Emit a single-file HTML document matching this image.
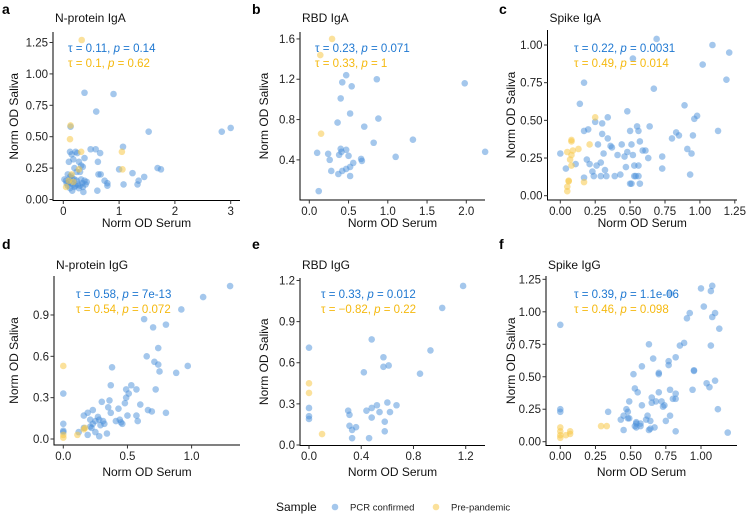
<!DOCTYPE html>
<html><head><meta charset="utf-8">
<style>
body{margin:0;background:#fff;}
svg{display:block;font-family:"Liberation Sans",Arial,sans-serif;}
</style></head>
<body>
<svg id="chart" width="747" height="514" viewBox="0 0 747 514" xmlns="http://www.w3.org/2000/svg"></svg>
<script>
const titlesA = ["N-protein IgA","RBD IgA","Spike IgA","N-protein IgG","RBD IgG","Spike IgG"];
const lettersA = ["a","b","c","d","e","f"];
const statsBlue = ["τ = 0.11, p = 0.14","τ = 0.23, p = 0.071","τ = 0.22, p = 0.0031","τ = 0.58, p = 7e-13","τ = 0.33, p = 0.012","τ = 0.39, p = 1.1e-06"];
const statsYellow = ["τ = 0.1, p = 0.62","τ = 0.33, p = 1","τ = 0.49, p = 0.014","τ = 0.54, p = 0.072","τ = −0.82, p = 0.22","τ = 0.46, p = 0.098"];
const xTicksA = [[0,1,2,3],[0,0.5,1,1.5,2],[0,0.25,0.5,0.75,1,1.25],[0,0.5,1],[0,0.4,0.8,1.2],[0,0.25,0.5,0.75,1]];
const xTickLabels = [["0","1","2","3"],["0.0","0.5","1.0","1.5","2.0"],["0.00","0.25","0.50","0.75","1.00","1.25"],["0.0","0.5","1.0"],["0.0","0.4","0.8","1.2"],["0.00","0.25","0.50","0.75","1.00"]];
const yTicksA = [[0,0.25,0.5,0.75,1,1.25],[0.4,0.8,1.2,1.6],[0,0.25,0.5,0.75,1],[0,0.3,0.6,0.9],[0,0.3,0.6,0.9,1.2],[0,0.25,0.5,0.75,1,1.25]];
const yTickLabels = [["0.00","0.25","0.50","0.75","1.00","1.25"],["0.4","0.8","1.2","1.6"],["0.00","0.25","0.50","0.75","1.00"],["0.0","0.3","0.6","0.9"],["0.0","0.3","0.6","0.9","1.2"],["0.00","0.25","0.50","0.75","1.00","1.25"]];

const blueA = [[0.38,0.85],[0.9,0.84],[0.59,0.7],[0.13,0.58],[1.53,0.54],[2.84,0.54],[3.0,0.57],[1.07,0.42],[0.49,0.4],[0.58,0.4],[0.66,0.37],[1.0,0.24],[0.62,0.3],[1.24,0.21],[1.45,0.18],[1.69,0.25],[1.75,0.24],[0.63,0.2],[0.67,0.2],[0.74,0.15],[0.79,0.13],[0.79,0.11],[1.08,0.12],[1.33,0.12],[1.35,0.15],[0.61,0.07],[0.36,0.06],
[0.12,0.38],[0.15,0.36],[0.22,0.38],[0.25,0.37],[0.18,0.32],[0.28,0.3],[0.32,0.27],[0.35,0.26],[0.38,0.33],[0.1,0.3],[0.2,0.25],[0.24,0.22],[0.3,0.22],[0.08,0.2],[0.12,0.18],[0.16,0.17],[0.2,0.16],[0.05,0.15],[0.02,0.16],[0.1,0.14],[0.14,0.13],[0.18,0.12],[0.22,0.11],[0.26,0.12],[0.3,0.11],[0.34,0.13],[0.38,0.15],[0.42,0.14],[0.08,0.11],[0.12,0.09],[0.16,0.07],[0.2,0.1],[0.28,0.09],[0.35,0.1],[0.06,0.13],[0.14,0.19],[0.24,0.15],[0.32,0.16],[0.4,0.12]];
const yellowA = [[0.33,1.27],[0.13,0.59],[0.12,0.48],[0.32,0.38],[1.05,0.38],[1.06,0.24],[0.05,0.1],[0.15,0.2],[0.28,0.24],[0.18,0.14],[0.1,0.15]];

const blueB = [[0.47,1.24],[0.42,1.17],[0.54,1.13],[0.86,1.2],[1.98,1.16],[2.24,0.48],[0.4,1.01],[0.52,0.86],[0.88,0.81],[0.36,0.77],[0.7,0.73],[1.32,0.6],[0.82,0.57],[1.1,0.43],[0.1,0.47],[0.24,0.46],[0.4,0.51],[0.47,0.5],[0.38,0.45],[0.41,0.48],[0.5,0.44],[0.66,0.41],[0.67,0.39],[0.26,0.4],[0.56,0.37],[0.52,0.33],[0.47,0.31],[0.42,0.29],[0.37,0.26],[0.28,0.29],[0.52,0.24],[0.12,0.09]];
const yellowB = [[0.29,1.6],[0.14,1.44],[0.15,0.66]];

const blueC = [[0.69,1.04],[1.09,1.0],[1.21,0.95],[1.02,0.87],[0.52,0.91],[1.19,0.77],[0.67,0.71],[0.17,0.75],[0.14,0.61],[0.89,0.6],[0.48,0.56],[0.98,0.53],[0.96,0.51],[0.34,0.52],[0.25,0.49],[0.3,0.48],[0.64,0.46],[0.55,0.46],[0.17,0.43],[0.2,0.44],[0.5,0.43],[0.56,0.43],[0.83,0.42],[0.85,0.4],[0.8,0.38],[1.13,0.43],[0.95,0.4],[0.3,0.41],[0.34,0.38],[0.36,0.33],[0.37,0.32],[0.44,0.34],[0.51,0.34],[0.57,0.36],[0.59,0.3],[0.61,0.3],[0.48,0.29],[0.31,0.28],[0.41,0.27],[0.27,0.34],[0.11,0.21],[0.19,0.24],[0.21,0.21],[0.26,0.2],[0.29,0.22],[0.32,0.17],[0.29,0.13],[0.23,0.16],[0.17,0.12],[0.24,0.13],[0.33,0.13],[0.39,0.13],[0.43,0.14],[0.47,0.19],[0.53,0.2],[0.56,0.2],[0.63,0.25],[0.73,0.26],[0.73,0.18],[0.53,0.13],[0.54,0.13],[0.56,0.13],[0.51,0.08],[0.57,0.08],[0.5,0.08],[0.91,0.31],[0.94,0.28],[0.93,0.14],[0.04,0.18],[0.0,0.28],[0.52,0.27],[0.46,0.26]];
const yellowC = [[0.25,0.52],[0.21,0.34],[0.08,0.37],[0.08,0.36],[0.05,0.29],[0.08,0.27],[0.13,0.31],[0.07,0.24],[0.08,0.2],[0.06,0.1],[0.06,0.095],[0.05,0.06],[0.05,0.03],[0.17,0.09],[0.09,0.3]];

const blueD = [[1.3,1.11],[1.09,1.03],[0.92,0.94],[0.63,0.87],[0.7,0.81],[0.8,0.83],[0.74,0.66],[0.65,0.6],[0.71,0.56],[0.74,0.54],[0.75,0.49],[0.88,0.48],[0.97,0.53],[0.38,0.52],[0.37,0.39],[0.53,0.39],[0.57,0.36],[0.49,0.36],[0.72,0.36],[0.51,0.33],[0.49,0.3],[0.3,0.27],[0.36,0.28],[0.48,0.26],[0.6,0.25],[0.35,0.23],[0.37,0.19],[0.43,0.22],[0.66,0.21],[0.69,0.2],[0.8,0.19],[0.57,0.17],[0.5,0.17],[0.58,0.13],[0.23,0.21],[0.19,0.19],[0.16,0.17],[0.21,0.14],[0.27,0.16],[0.28,0.14],[0.31,0.13],[0.25,0.13],[0.23,0.11],[0.21,0.09],[0.29,0.1],[0.32,0.11],[0.41,0.13],[0.44,0.14],[0.45,0.12],[0.46,0.11],[0.34,0.04],[0.28,0.02],[0.19,0.03],[0.22,0.08],[0.16,0.08],[0.12,0.05],[0.25,0.05],[0.0,0.33],[0.0,0.11],[0.0,0.06],[0.0,0.05]];
const yellowD = [[0,0.53],[0,0.03],[0,0.01],[0.11,0.03],[0.16,0.07],[0.17,0.08]];

const blueE = [[1.18,1.16],[1.02,1.0],[0.93,0.69],[0.48,0.77],[0,0.71],[0.57,0.64],[0.57,0.57],[0.61,0.58],[0.42,0.53],[0.85,0.52],[0,0.27],[0,0.21],[0,0.19],[0.3,0.25],[0.31,0.22],[0.44,0.25],[0.48,0.27],[0.52,0.29],[0.54,0.24],[0.6,0.31],[0.62,0.24],[0.67,0.29],[0.48,0.2],[0.58,0.17],[0.31,0.14],[0.36,0.13],[0.33,0.11],[0.33,0.05],[0.46,0.05],[0.58,0.1]];
const yellowE = [[0,0.45],[0,0.38],[0.1,0.08]];

const blueF = [[0,0.9],[0,0.25],[0,0.23],[1.08,1.2],[1.0,1.18],[1.07,1.16],[0.92,0.99],[0.9,0.95],[1.02,1.04],[1.1,0.99],[1.08,0.96],[1.13,0.87],[0.78,1.14],[1.07,0.74],[0.88,0.76],[0.85,0.74],[0.63,0.75],[0.66,0.64],[0.82,0.65],[0.77,0.62],[0.77,0.59],[0.58,0.58],[0.95,0.55],[0.95,0.545],[0.52,0.52],[0.7,0.53],[0.7,0.52],[1.04,0.45],[1.1,0.47],[1.06,0.42],[0.94,0.4],[0.53,0.41],[0.55,0.38],[0.78,0.4],[0.82,0.37],[0.7,0.38],[0.8,0.33],[0.82,0.33],[0.65,0.34],[0.68,0.31],[0.72,0.31],[0.74,0.28],[0.73,0.27],[0.65,0.3],[0.49,0.31],[0.58,0.28],[0.34,0.23],[0.47,0.25],[0.48,0.23],[0.45,0.2],[0.48,0.18],[0.43,0.17],[0.49,0.18],[0.54,0.15],[0.61,0.17],[0.64,0.16],[0.54,0.14],[0.57,0.14],[0.62,0.2],[0.78,0.2],[0.75,0.16],[0.54,0.11],[0.57,0.12],[0.63,0.09],[0.67,0.11],[0.64,0.1],[0.45,0.09],[0.82,0.08],[1.12,0.25],[1.19,0.07],[0.53,0.12]];
const yellowF = [[0,0.11],[0,0.08],[0,0.05],[0,0.03],[0.04,0.05],[0.07,0.06],[0.07,0.08],[0.29,0.12],[0.33,0.12]];

const blueAll = [blueA,blueB,blueC,blueD,blueE,blueF];
const yellowAll = [yellowA,yellowB,yellowC,yellowD,yellowE,yellowF];

// layout (pixel geometry of each panel)
const geo = [
 {x0:63.3,xs:55.8,y0:199.5,ys:125.6,l:53,b:200.5,r:240,t:32,ox:0,oy:0},
 {x0:309.3,xs:78.5,y0:200.2,ys:100.8,l:300,b:200,r:485,t:32,ox:250,oy:0},
 {x0:560.3,xs:139.6,y0:195.7,ys:150.7,l:547.5,b:200,r:737,t:30,ox:497,oy:0},
 {x0:63.3,xs:128.3,y0:439,ys:137.8,l:54,b:445,r:240,t:276,ox:0,oy:235},
 {x0:309,xs:130.6,y0:445,ys:137.1,l:300,b:445.5,r:485,t:278,ox:250,oy:235},
 {x0:560.3,xs:140.7,y0:441.7,ys:129.9,l:546,b:445.5,r:737,t:276,ox:497,oy:235}
];
const NS="http://www.w3.org/2000/svg";
const svg=document.getElementById('chart');
function mk(tag,attrs,parent){const e=document.createElementNS(NS,tag);for(const k in attrs)e.setAttribute(k,attrs[k]);(parent||svg).appendChild(e);return e;}
function txt(s,attrs,parent){const e=mk('text',attrs,parent);e.textContent=s;return e;}
function richStat(s,attrs,parent){
  const e=mk('text',attrs,parent);
  const parts=s.split('p');
  e.appendChild(document.createTextNode(parts[0]));
  const it=document.createElementNS(NS,'tspan');it.setAttribute('font-style','italic');it.textContent='p';e.appendChild(it);
  e.appendChild(document.createTextNode(parts.slice(1).join('p')));
  return e;
}
const BLUE="#4a90d9", YEL="#f7c948";
geo.forEach((g,i)=>{
  const X=v=>g.x0+v*g.xs, Y=v=>g.y0-v*g.ys;
  const grp=mk('g',{});
  
  
  const L=txt(lettersA[i],{x:g.ox+2,y:g.oy+14,'font-size':14,'font-weight':'bold',fill:'#000'},grp);
  
  
  const T=txt(titlesA[i],{x:g.l+2,y:g.oy+22+(i>2?-1:0)+(i>2?13:0)-(i>2?0:0),'font-size':12,fill:'#111'},grp);
  
  
  if(i>2)T.setAttribute('y',269);
  // points
  const pts=mk('g',{},grp);
  
  
  blueAll[i].forEach(p=>{
    const c=mk('circle',{cx:X(p[0]),cy:Y(p[1]),r:3.3,fill:BLUE,'fill-opacity':0.5},pts);
    
    
  });
  yellowAll[i].forEach(p=>{
    const c=mk('circle',{cx:X(p[0]),cy:Y(p[1]),r:3.3,fill:YEL,'fill-opacity':0.55},pts);
    
    
  });
  // axes
  const ax=mk('path',{d:`M${g.l},${g.t}V${g.b}H${g.r}`,stroke:'#000','stroke-width':1,fill:'none'},grp);
  
  
  const tickY=(i<3)?215:460;
  xTicksA[i].forEach((v,k)=>{
    mk('line',{x1:X(v),x2:X(v),y1:g.b,y2:g.b+3.5,stroke:'#333'},grp);
    const t=txt(xTickLabels[i][k],{x:X(v),y:tickY,'text-anchor':'middle','font-size':11.5,fill:'#222'},grp);
    
    
  });
  yTicksA[i].forEach((v,k)=>{
    mk('line',{x1:g.l-3.5,x2:g.l,y1:Y(v),y2:Y(v),stroke:'#333'},grp);
    const t=txt(yTickLabels[i][k],{x:g.l-5,y:Y(v)+4,'text-anchor':'end','font-size':11.5,fill:'#222'},grp);
    
    
  });
  const xt=txt('Norm OD Serum',{x:(g.l+g.r)/2,y:(i<3)?227:476,'text-anchor':'middle','font-size':12,fill:'#111'},grp);
  
  
  const yc=(g.t+g.b)/2, yx=g.ox+18;
  const yt=txt('Norm OD Saliva',{x:yx,y:yc,'text-anchor':'middle','font-size':12,fill:'#111',transform:`rotate(-90 ${yx} ${yc})`},grp);
  
  
  const sx=[68,315,574,76,321,574][i], sb=(i<3)?52:298;
  const s1=richStat(statsBlue[i],{x:sx,y:sb,'font-size':11.5,fill:'#1f78d1'},grp);
  
  
  const s2=richStat(statsYellow[i],{x:sx,y:sb+15,'font-size':11.5,fill:'#f5b90f'},grp);
  
  
});
// legend
const lg=mk('g',{});


const lt=txt('Sample',{x:276,y:511,'font-size':12,fill:'#111'},lg);


const c1=mk('circle',{cx:335,cy:507,r:3.3,fill:BLUE,'fill-opacity':0.5},lg);


const t1=txt('PCR confirmed',{x:350,y:510.5,'font-size':9.5,fill:'#222'},lg);


const c2=mk('circle',{cx:436,cy:507,r:3.3,fill:YEL,'fill-opacity':0.55},lg);


const t2=txt('Pre-pandemic',{x:451,y:510.5,'font-size':9.5,fill:'#222'},lg);


</script>
</body></html>
